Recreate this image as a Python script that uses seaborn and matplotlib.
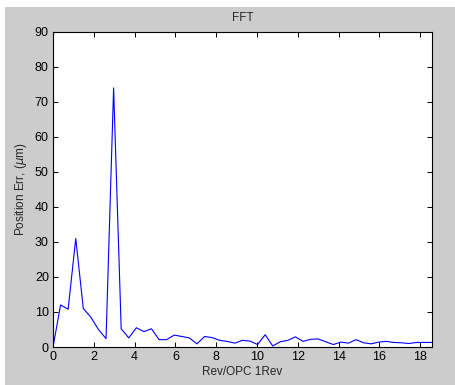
import numpy as np
import pandas as pd
import seaborn as sns
from matplotlib import pyplot as plt
from matplotlib.patches import Rectangle

# FFT magnitude, one value per frequency bin
step = 0.3714
pos_err = [0, 12, 10.8, 31, 11, 8.5, 5, 2.4, 74, 5.2,
           2.6, 5.5, 4.4, 5.2, 2.1, 2.1, 3.4, 3.0, 2.6, 0.9,
           3.0, 2.7, 1.9, 1.6, 1.1, 1.9, 1.7, 0.7, 3.5, 0.3,
           1.5, 1.9, 2.9, 1.6, 2.2, 2.3, 1.5, 0.7, 1.4, 1.1,
           2.1, 1.2, 0.9, 1.4, 1.6, 1.3, 1.2, 1.0, 1.3, 1.3, 1.3]
freq = [i * step for i in range(len(pos_err))]
x_ticks = [0, 2, 4, 6, 8, 10, 12, 14, 16, 18]
y_ticks = [0, 10, 20, 30, 40, 50, 60, 70, 80, 90]

df = pd.DataFrame({'freq': freq, 'err': pos_err})

sns.set_style('ticks')
plt.rcParams['font.family'] = ['Liberation Sans', 'DejaVu Sans']
plt.rcParams['xtick.direction'] = 'in'
plt.rcParams['ytick.direction'] = 'in'

fig = plt.figure(figsize=(4.55, 3.85), dpi=100, facecolor='white')
# grey window area, leaving a thin white strip on top and left
fig.patches.append(Rectangle((5 / 455, 0), 1, 1 - 7 / 385, transform=fig.transFigure,
                             facecolor='#cccccc', edgecolor='none', zorder=-10))

ax = fig.add_axes([0.1165, 0.0987, 0.8325, 0.8183])
ax.set_facecolor('white')

sns.lineplot(data=df, x='freq', y='err', ax=ax, color='#0000ff', linewidth=0.8)

ax.set_xlim(0, freq[-1])
ax.set_ylim(0, 90)
ax.set_xticks(x_ticks)
ax.set_yticks(y_ticks)
ax.tick_params(top=True, right=True, length=3.5, width=0.7, labelsize=9,
               colors='black', pad=3)
for s in ax.spines.values():
    s.set_linewidth(0.8)
    s.set_color('black')

ax.set_title('FFT', fontsize=8.5, pad=8)
ax.set_xlabel('Rev/OPC 1Rev', fontsize=8.5, labelpad=2)
ax.set_ylabel(r'Position Err, ($\mu$m)', fontsize=8.5, labelpad=4)

fig.savefig('out.png', dpi=100, facecolor=fig.get_facecolor())
